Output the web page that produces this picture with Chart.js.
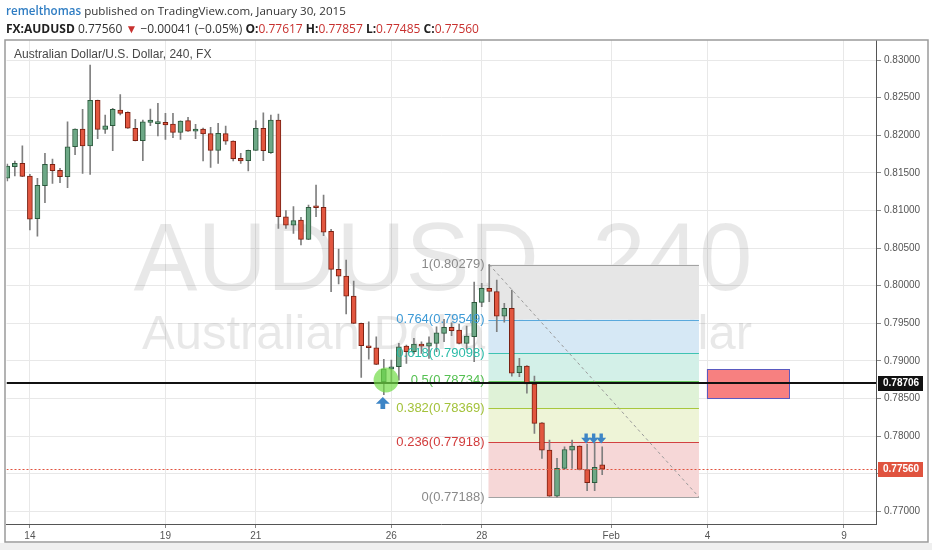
<!DOCTYPE html>
<html>
<head>
<meta charset="utf-8">
<script src="https://cdn.jsdelivr.net/npm/chart.js@4.4.0/dist/chart.umd.min.js"></script>
<style>
    html, body { margin: 0; padding: 0; background: #fff; }
    #wrap { position: relative; width: 932px; height: 550px; overflow: hidden; }
    #chart { position: absolute; left: 0; top: 0; }
    .hdr {
        position: absolute;
        left: 6px;
        font-family: "Open Sans", "Liberation Sans", sans-serif;
        font-size: 12px;
        color: #333;
        white-space: nowrap;
    }
    .user { color: #2f7dc3; font-weight: 600; }
    .red { color: #c8312f; }
    .hdr b { font-weight: 700; color: #222; }
</style>
</head>
<body>
<div id="wrap">
    <canvas id="chart" width="932" height="550"></canvas>
    <div class="hdr" style="top:3px; font-size:11.6px"><span class="user">remelthomas</span> published on TradingView.com, January 30, 2015</div>
    <div class="hdr" style="top:20px"><b>FX:AUDUSD</b> 0.77560 <span class="red">&#9660;</span> &minus;0.00041 (&minus;0.05%) <b>O:</b><span class="red">0.77617</span> <b>H:</b><span class="red">0.77857</span> <b>L:</b><span class="red">0.77485</span> <b>C:</b><span class="red">0.77560</span></div>
</div>
<script>
// AUDUSD 240 candles
const opens = [
    0.81427, 0.81581, 0.81626, 0.81457, 0.80889, 0.81328, 0.81613, 0.81533, 0.81448, 0.81847,
    0.82082, 0.81856, 0.82464, 0.82078, 0.82126, 0.82335, 0.82304, 0.82092, 0.81927, 0.82171,
    0.82153, 0.82171, 0.82149, 0.82038, 0.82193, 0.82052, 0.82082, 0.82020, 0.81799, 0.82020,
    0.81923, 0.81693, 0.81661, 0.81799, 0.82092, 0.81767, 0.82202, 0.80916, 0.80802, 0.80872,
    0.80615, 0.81041, 0.81041, 0.80722, 0.80216, 0.80127, 0.79861, 0.79498, 0.79200, 0.79174,
    0.78721, 0.78890, 0.78921, 0.79196, 0.79120, 0.79223, 0.79196, 0.79232, 0.79365, 0.79445,
    0.79409, 0.79232, 0.79320, 0.79777, 0.79964, 0.79921, 0.79595, 0.79698, 0.78841, 0.78930,
    0.78691, 0.78176, 0.77813, 0.77200, 0.77570, 0.77813, 0.77866, 0.77554, 0.77378, 0.77617
];
const highs = [
    0.81617, 0.81657, 0.81860, 0.81480, 0.81427, 0.81759, 0.81683, 0.81560, 0.82179, 0.82085,
    0.82344, 0.82934, 0.82467, 0.82269, 0.82358, 0.82539, 0.82312, 0.82211, 0.82202, 0.82348,
    0.82424, 0.82291, 0.82291, 0.82192, 0.82238, 0.82145, 0.82096, 0.82105, 0.82158, 0.82122,
    0.81925, 0.81759, 0.81802, 0.82193, 0.82299, 0.82269, 0.82282, 0.80996, 0.81052, 0.80908,
    0.81072, 0.81338, 0.81205, 0.80748, 0.80486, 0.80340, 0.80061, 0.79502, 0.79519, 0.79320,
    0.79019, 0.79010, 0.79232, 0.79210, 0.79299, 0.79253, 0.79320, 0.79453, 0.79551, 0.79506,
    0.79489, 0.79462, 0.80047, 0.80030, 0.80279, 0.80074, 0.79764, 0.79941, 0.79033, 0.78935,
    0.78797, 0.78180, 0.77946, 0.77703, 0.77857, 0.77946, 0.77870, 0.77893, 0.77913, 0.77857
];
const lows = [
    0.81391, 0.81457, 0.81450, 0.80739, 0.80659, 0.81102, 0.81360, 0.81368, 0.81302, 0.81740,
    0.81493, 0.81480, 0.81953, 0.82025, 0.81794, 0.82269, 0.82090, 0.81925, 0.81661, 0.82126,
    0.81989, 0.81945, 0.81967, 0.81945, 0.82050, 0.81953, 0.81657, 0.81573, 0.81626, 0.81879,
    0.81657, 0.81626, 0.81524, 0.81797, 0.81661, 0.81759, 0.80762, 0.80762, 0.80695, 0.80540,
    0.80612, 0.80916, 0.80663, 0.79918, 0.80021, 0.79622, 0.79495, 0.78780, 0.79023, 0.78950,
    0.78550, 0.78700, 0.78744, 0.78966, 0.79090, 0.79099, 0.79033, 0.79120, 0.79253, 0.79333,
    0.79226, 0.79156, 0.78987, 0.79719, 0.79785, 0.79386, 0.79515, 0.78797, 0.78788, 0.78571,
    0.78035, 0.77703, 0.77195, 0.77188, 0.77555, 0.77570, 0.77550, 0.77274, 0.77274, 0.77485
];
const closes = [
    0.81590, 0.81626, 0.81453, 0.80885, 0.81333, 0.81613, 0.81528, 0.81448, 0.81847, 0.82082,
    0.81856, 0.82464, 0.82078, 0.82126, 0.82344, 0.82291, 0.82092, 0.81927, 0.82179, 0.82202,
    0.82166, 0.82136, 0.82038, 0.82189, 0.82052, 0.82082, 0.82016, 0.81799, 0.82025, 0.81919,
    0.81687, 0.81657, 0.81799, 0.82092, 0.81794, 0.82202, 0.80916, 0.80802, 0.80865, 0.80615,
    0.81041, 0.81035, 0.80712, 0.80216, 0.80127, 0.79861, 0.79498, 0.79200, 0.79174, 0.78953,
    0.78890, 0.78921, 0.79187, 0.79120, 0.79223, 0.79196, 0.79240, 0.79373, 0.79445, 0.79400,
    0.79232, 0.79329, 0.79777, 0.79964, 0.79924, 0.79595, 0.79698, 0.78837, 0.78930, 0.78691,
    0.78168, 0.77813, 0.77200, 0.77570, 0.77820, 0.77866, 0.77554, 0.77378, 0.77583, 0.77560
];

// date axis (bar index where each day starts)
const dateTickPos = [3, 21, 33, 51, 63, 80.2, 93, 111.1];
const dateTickLabels = ["14", "19", "21", "26", "28", "Feb", "4", "9"];

// price axis
const priceTicks = [0.77, 0.775, 0.78, 0.785, 0.79, 0.795, 0.8, 0.805, 0.81, 0.815, 0.82, 0.825, 0.83];

// fibonacci retracement
const fibRatios = ["1", "0.764", "0.618", "0.5", "0.382", "0.236", "0"];
const fibPrices = [0.80279, 0.79549, 0.79098, 0.78734, 0.78369, 0.77918, 0.77188];
const fibRange = [63.9, 91.85];

// drawings
const supportLevel = 0.78706;
const lastPrice = 0.7756;
const zoneX = [92.9, 103.85];
const zonePrices = [0.7889, 0.78501];
const circleAt = [50.3, 0.78745];
const upArrowAt = [50, 0.7852];
const downArrowsAt = [77, 78, 79];
const downArrowPrice = 0.779;

// Colors
const upFill = "#6da886";
const upLine = "#2c5a3d";
const downFill = "#e2563f";
const downLine = "#7a2012";
const wickColor = "#7f7f7f";
const fibLineColors = ["#a3a3a3", "#5aa9dc", "#3fc3b3", "#62c85c", "#a8c73c", "#d24141", "#a3a3a3"];
const fibTextColors = ["#8a8a8a", "#3d9ad6", "#2bbba8", "#55c052", "#a3c23a", "#d23c3c", "#8a8a8a"];
const fibBandColors = ["#e6e6e6", "#d6e8f5", "#d3f0e8", "#dff2d7", "#eef4d7", "#f6d7d7"];
const arrowBlue = "#3d85c6";

const idx = opens.map((_, i) => i);
const isUp = idx.map(i => closes[i] >= opens[i]);

function drawArrow(ctx, x, tipY, dir, w, h) {
    // dir = -1 points up, 1 points down
    const head = h * 0.58;
    const stem = w * 0.34;
    ctx.beginPath();
    ctx.moveTo(x, tipY);
    ctx.lineTo(x + w / 2, tipY - dir * head);
    ctx.lineTo(x + stem / 2, tipY - dir * head);
    ctx.lineTo(x + stem / 2, tipY - dir * h);
    ctx.lineTo(x - stem / 2, tipY - dir * h);
    ctx.lineTo(x - stem / 2, tipY - dir * head);
    ctx.lineTo(x - w / 2, tipY - dir * head);
    ctx.closePath();
    ctx.fill();
}

const overlayPlugin = {
    id: "overlay",
    beforeDraw(chart) {
        const ctx = chart.ctx;
        ctx.save();
        ctx.fillStyle = "#ffffff";
        ctx.fillRect(0, 0, chart.width, chart.height);
        ctx.fillStyle = "#efefef";
        ctx.fillRect(0, 543, chart.width, chart.height - 543);
        ctx.restore();
    },
    beforeDatasetsDraw(chart) {
        const ctx = chart.ctx;
        const area = chart.chartArea;
        const xs = chart.scales.x;
        const ys = chart.scales.y;
        ctx.save();
        ctx.beginPath();
        ctx.rect(area.left, area.top, area.right - area.left, area.bottom - area.top);
        ctx.clip();

        // watermark
        ctx.fillStyle = "rgba(0,0,0,0.09)";
        ctx.textAlign = "center";
        ctx.textBaseline = "alphabetic";
        ctx.font = '96px "Liberation Sans", Arial, sans-serif';
        ctx.fillText("AUDUSD, 240", 443, 290);
        ctx.font = '49px "Liberation Sans", Arial, sans-serif';
        ctx.fillText("Australian Dollar/U.S. Dollar", 447, 349);

        // fib bands and lines
        const x0 = xs.getPixelForValue(fibRange[0]);
        const x1 = xs.getPixelForValue(fibRange[1]);
        for (let i = 0; i < fibBandColors.length; i++) {
            const yA = ys.getPixelForValue(fibPrices[i]);
            const yB = ys.getPixelForValue(fibPrices[i + 1]);
            ctx.fillStyle = fibBandColors[i];
            ctx.fillRect(x0, yA, x1 - x0, yB - yA);
        }
        ctx.lineWidth = 1;
        fibPrices.forEach((p, i) => {
            const y = Math.round(ys.getPixelForValue(p)) + 0.5;
            ctx.strokeStyle = fibLineColors[i];
            ctx.beginPath();
            ctx.moveTo(x0, y);
            ctx.lineTo(x1, y);
            ctx.stroke();
        });

        // trend line from high to low
        ctx.strokeStyle = "#9a9a9a";
        ctx.setLineDash([3, 3]);
        ctx.beginPath();
        ctx.moveTo(xs.getPixelForValue(64), ys.getPixelForValue(fibPrices[0]));
        ctx.lineTo(x1, ys.getPixelForValue(fibPrices[6]));
        ctx.stroke();
        ctx.restore();
    },
    afterDatasetsDraw(chart) {
        const ctx = chart.ctx;
        const area = chart.chartArea;
        const xs = chart.scales.x;
        const ys = chart.scales.y;
        ctx.save();
        ctx.beginPath();
        ctx.rect(area.left, area.top, area.right - area.left, area.bottom - area.top);
        ctx.clip();

        // fib labels
        ctx.font = '13px "Liberation Sans", Arial, sans-serif';
        ctx.textAlign = "right";
        ctx.textBaseline = "middle";
        const lx = xs.getPixelForValue(fibRange[0]) - 4;
        fibPrices.forEach((p, i) => {
            ctx.fillStyle = fibTextColors[i];
            ctx.fillText(fibRatios[i] + "(" + p.toFixed(5) + ")", lx, ys.getPixelForValue(p));
        });

        // demand zone box
        const zx0 = xs.getPixelForValue(zoneX[0]);
        const zx1 = xs.getPixelForValue(zoneX[1]);
        const zy0 = ys.getPixelForValue(zonePrices[0]);
        const zy1 = ys.getPixelForValue(zonePrices[1]);
        ctx.fillStyle = "rgba(244, 86, 86, 0.75)";
        ctx.fillRect(zx0, zy0, zx1 - zx0, zy1 - zy0);
        ctx.strokeStyle = "#5a5ac0";
        ctx.lineWidth = 1;
        ctx.strokeRect(Math.round(zx0) + 0.5, Math.round(zy0) + 0.5, Math.round(zx1 - zx0), Math.round(zy1 - zy0));

        // support line
        const sy = Math.round(ys.getPixelForValue(supportLevel));
        ctx.strokeStyle = "#111";
        ctx.lineWidth = 2;
        ctx.beginPath();
        ctx.moveTo(area.left, sy);
        ctx.lineTo(area.right, sy);
        ctx.stroke();

        // last price line
        const py = Math.round(ys.getPixelForValue(lastPrice)) + 0.5;
        ctx.strokeStyle = "#e0533f";
        ctx.lineWidth = 1;
        ctx.setLineDash([2, 2]);
        ctx.beginPath();
        ctx.moveTo(area.left, py);
        ctx.lineTo(area.right, py);
        ctx.stroke();
        ctx.setLineDash([]);

        // highlight circle
        ctx.fillStyle = "rgba(112, 220, 70, 0.7)";
        ctx.beginPath();
        ctx.arc(xs.getPixelForValue(circleAt[0]), ys.getPixelForValue(circleAt[1]), 12.5, 0, Math.PI * 2);
        ctx.fill();

        // arrows
        ctx.fillStyle = arrowBlue;
        drawArrow(ctx, xs.getPixelForValue(upArrowAt[0]) - 1, ys.getPixelForValue(upArrowAt[1]), -1, 14, 12);
        downArrowsAt.forEach(i => {
            drawArrow(ctx, xs.getPixelForValue(i) - 1, ys.getPixelForValue(downArrowPrice), 1, 10, 10);
        });
        ctx.restore();
    },
    afterDraw(chart) {
        const ctx = chart.ctx;
        const area = chart.chartArea;
        const ys = chart.scales.y;
        ctx.save();

        // title
        ctx.font = '12px "Liberation Sans", Arial, sans-serif';
        ctx.fillStyle = "#484848";
        ctx.textAlign = "left";
        ctx.textBaseline = "middle";
        ctx.fillText("Australian Dollar/U.S. Dollar, 240, FX", 14, 55);

        // price boxes on the axis
        ctx.font = 'bold 10px "Liberation Sans", Arial, sans-serif';
        [[supportLevel, "#111111"], [lastPrice, "#e0533f"]].forEach(([p, c]) => {
            const y = Math.round(ys.getPixelForValue(p));
            ctx.fillStyle = c;
            ctx.fillRect(area.right + 2, y - 7, 45, 15);
            ctx.fillStyle = "#fff";
            ctx.fillText(p.toFixed(5), area.right + 7, y + 0.5);
        });

        // outer frame
        ctx.strokeStyle = "#9a9a9a";
        ctx.lineWidth = 1.5;
        ctx.strokeRect(5, 40, 923, 502);
        ctx.restore();
    }
};

Chart.defaults.font.family = '"Liberation Sans", Arial, sans-serif';

new Chart(document.getElementById("chart").getContext("2d"), {
    type: "bar",
    data: {
        datasets: [
            {
                label: "body",
                data: idx.map(i => ({ x: i, y: [opens[i], closes[i]] })),
                backgroundColor: idx.map(i => (isUp[i] ? upFill : downFill)),
                borderColor: idx.map(i => (isUp[i] ? upLine : downLine)),
                borderWidth: 1,
                borderSkipped: false,
                barThickness: 5,
                minBarLength: 2,
                grouped: false,
            },
            {
                label: "wick",
                data: idx.map(i => ({ x: i, y: [lows[i], highs[i]] })),
                backgroundColor: wickColor,
                borderWidth: 0,
                barThickness: 1,
                grouped: false,
            },
        ],
    },
    options: {
        responsive: false,
        animation: false,
        layout: { padding: { left: 6.5, top: 40, right: 0, bottom: 0 } },
        plugins: {
            legend: { display: false },
            tooltip: { enabled: false },
        },
        scales: {
            x: {
                type: "linear",
                min: -0.106,
                max: 115.36,
                offset: false,
                afterBuildTicks: s => { s.ticks = dateTickPos.map(v => ({ value: v })); },
                afterFit: s => { s.height = 26; },
                grid: { color: "#e8e8e8", tickLength: 4, tickColor: "#888", offset: false },
                border: { color: "#555", width: 1 },
                ticks: {
                    autoSkip: false,
                    maxRotation: 0,
                    padding: 2,
                    color: "#555",
                    font: { size: 10 },
                    callback: (v, i) => dateTickLabels[i],
                },
            },
            y: {
                position: "right",
                min: 0.768298,
                max: 0.83266,
                afterBuildTicks: s => { s.ticks = priceTicks.map(v => ({ value: v })); },
                afterFit: s => { s.width = 56; },
                grid: { color: "#e8e8e8", tickLength: 5, tickColor: "#888" },
                border: { color: "#555", width: 1 },
                ticks: {
                    padding: 3,
                    color: "#555",
                    font: { size: 10 },
                    callback: v => v.toFixed(5),
                },
            },
        },
    },
    plugins: [overlayPlugin],
});
</script>
</body>
</html>
